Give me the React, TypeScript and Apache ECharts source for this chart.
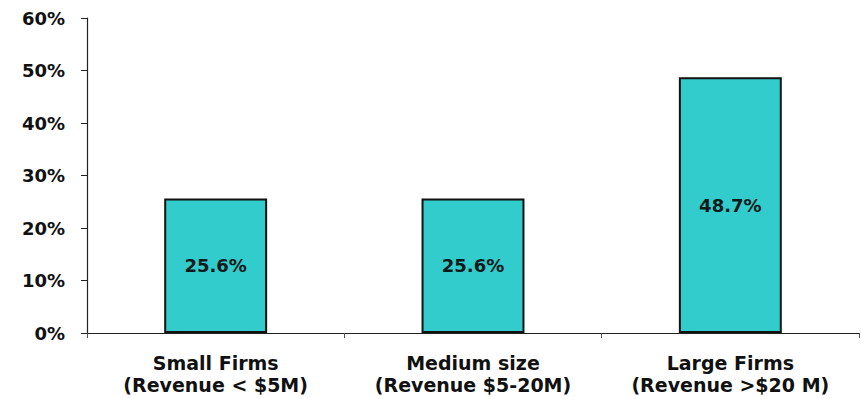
import React, { useEffect, useRef } from "react";
import * as echarts from "echarts";

// Share of respondents by firm size
const categories: string[] = [
  "Small Firms\n(Revenue < $5M)",
  "Medium size\n(Revenue $5-20M)",
  "Large Firms\n(Revenue >$20 M)",
];
const shares: number[] = [25.6, 25.6, 48.7];

const yMin = 0;
const yMax = 60;
const yStep = 10;

const FONT = "'DejaVu Sans', Verdana, sans-serif";
const INK = "#111111";

export default function App() {
  const ref = useRef<HTMLDivElement>(null);

  useEffect(() => {
    if (!ref.current) return;
    const chart = echarts.init(ref.current, undefined, { renderer: "svg" });
    chart.setOption({
      animation: false,
      backgroundColor: "#ffffff",
      grid: { left: 87, right: 2, top: 18, bottom: 66, containLabel: false },
      xAxis: {
        type: "category",
        data: categories,
        boundaryGap: true,
        axisLine: { show: true, lineStyle: { color: "#222", width: 1.2 } },
        axisTick: { show: true, length: 5, alignWithLabel: false, lineStyle: { color: "#555" } },
        axisLabel: {
          margin: 19,
          fontFamily: FONT,
          fontWeight: "bold",
          fontSize: 19,
          lineHeight: 22,
          color: INK,
        },
        splitLine: { show: false },
      },
      yAxis: {
        type: "value",
        min: yMin,
        max: yMax,
        interval: yStep,
        axisLine: { show: true, lineStyle: { color: "#222", width: 1.2 } },
        axisTick: { show: true, inside: false, length: 6, lineStyle: { color: "#222" } },
        axisLabel: {
          margin: 22,
          fontFamily: FONT,
          fontWeight: "bold",
          fontSize: 18,
          color: INK,
          formatter: (v: number) => `${v}%`,
        },
        splitLine: { show: false },
      },
      series: [
        {
          type: "bar",
          data: shares,
          barWidth: "40%",
          itemStyle: { color: "#33CCCC", borderColor: "#111", borderWidth: 2 },
          label: {
            show: true,
            position: "inside",
            fontFamily: FONT,
            fontWeight: "bold",
            fontSize: 18,
            color: "#0d1a1a",
            formatter: (p: any) => `${Number(p.value).toFixed(1)}%`,
          },
        },
      ],
    });
    return () => chart.dispose();
  }, []);

  return (
    <div
      ref={ref}
      style={{ position: "fixed", left: 0, top: 0, width: 861, height: 399, background: "#fff" }}
    />
  );
}
